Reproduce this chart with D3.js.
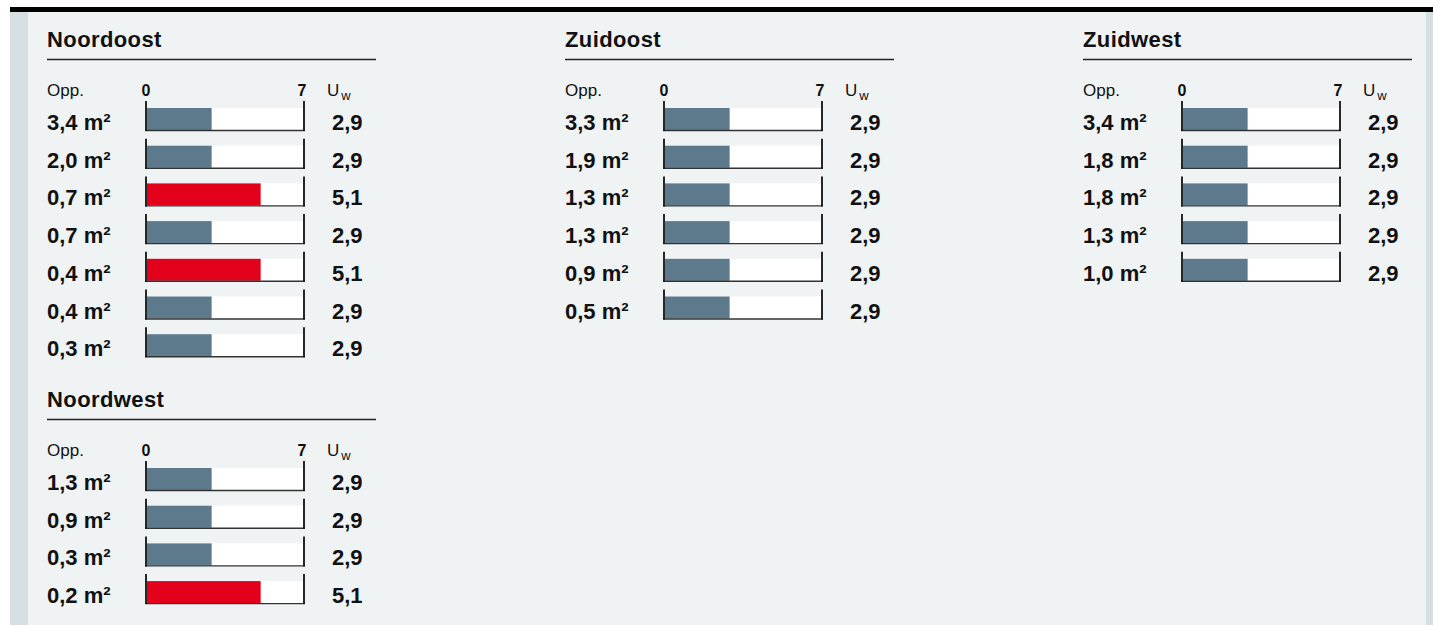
<!DOCTYPE html>
<html>
<head>
<meta charset="utf-8">
<script src="https://cdn.jsdelivr.net/npm/d3@7"></script>
<style>
  body { margin: 0; background: #fff; }
  svg text { font-family: "Liberation Sans", Arial, Helvetica, sans-serif; fill: #111; }
  .title { font-size: 22px; font-weight: bold; letter-spacing: 0.4px; }
  .head { font-size: 17px; }
  .tick-label { font-size: 16px; font-weight: bold; }
  .row-label, .value { font-size: 22px; font-weight: bold; }
</style>
</head>
<body>
<div id="chart"></div>
<script>
// Window data (area in m², U_w value) per facade
const panelNames = ['Noordoost', 'Zuidoost', 'Zuidwest', 'Noordwest'];
const noordoostArea = [3.4, 2.0, 0.7, 0.7, 0.4, 0.4, 0.3];
const noordoostUw   = [2.9, 2.9, 5.1, 2.9, 5.1, 2.9, 2.9];
const zuidoostArea  = [3.3, 1.9, 1.3, 1.3, 0.9, 0.5];
const zuidoostUw    = [2.9, 2.9, 2.9, 2.9, 2.9, 2.9];
const zuidwestArea  = [3.4, 1.8, 1.8, 1.3, 1.0];
const zuidwestUw    = [2.9, 2.9, 2.9, 2.9, 2.9];
const noordwestArea = [1.3, 0.9, 0.3, 0.2];
const noordwestUw   = [2.9, 2.9, 2.9, 5.1];
const axisTicks = [0, 7];

const width = 1433, height = 625;
const nl = d3.formatLocale({ decimal: ',', thousands: '.', grouping: [3], currency: ['€', ''] });
const fmt = nl.format('.1f');

const svg = d3.select('#chart')
    .append('svg')
    .attr('width', width)
    .attr('height', height);

// background frame
svg.append('rect').attr('x', 10).attr('y', 7).attr('width', width - 10).attr('height', height - 7).attr('fill', '#d8dfe3');
svg.append('rect').attr('x', 28).attr('y', 12).attr('width', 1398).attr('height', height - 12).attr('fill', '#f0f3f4');
svg.append('rect').attr('x', 10).attr('y', 7).attr('width', width - 10).attr('height', 5).attr('fill', '#000');

const panels = [
    { name: panelNames[0], area: noordoostArea, uw: noordoostUw, x0: 47, y0: 0 },
    { name: panelNames[1], area: zuidoostArea, uw: zuidoostUw, x0: 565, y0: 0 },
    { name: panelNames[2], area: zuidwestArea, uw: zuidwestUw, x0: 1083, y0: 0 },
    { name: panelNames[3], area: noordwestArea, uw: noordwestUw, x0: 47, y0: 360 }
];

const color = d3.scaleThreshold().domain([4]).range(['#5c7a8b', '#e3001b']);

panels.forEach(p => {
    const g = svg.append('g').attr('transform', `translate(${p.x0},${p.y0})`);
    const x = d3.scaleLinear().domain([0, 7]).range([100, 256]);
    const y = d3.scaleLinear().domain([0, 1]).range([108, 145.7]);
    const rows = p.area.map((a, i) => ({ a, u: p.uw[i], i }));

    g.append('text').attr('class', 'title').attr('x', 0).attr('y', 47).text(p.name);
    g.append('line').attr('x1', 0).attr('x2', 329).attr('y1', 59.5).attr('y2', 59.5)
        .attr('stroke', '#222').attr('stroke-width', 1.3);

    g.append('text').attr('class', 'head').attr('x', 0).attr('y', 96).text('Opp.');
    g.selectAll('.tick-label').data(axisTicks).enter().append('text')
        .attr('class', 'tick-label')
        .attr('x', d => x(d) - 1)
        .attr('y', 96)
        .attr('text-anchor', 'middle')
        .text(d => d);
    const uw = g.append('text').attr('class', 'head').attr('x', 280).attr('y', 96);
    uw.append('tspan').text('U');
    uw.append('tspan').attr('dx', 2).attr('dy', 4).attr('font-size', 13).attr('fill', '#111').text('w');

    const row = g.selectAll('.row').data(rows).enter().append('g').attr('class', 'row');

    row.append('rect')
        .attr('x', x(0)).attr('y', d => y(d.i))
        .attr('width', x(7) - x(0)).attr('height', 22)
        .attr('fill', '#fff');
    row.append('rect')
        .attr('x', x(0)).attr('y', d => y(d.i))
        .attr('width', d => x(d.u) - x(0)).attr('height', 22)
        .attr('fill', d => color(d.u));
    row.append('line')
        .attr('x1', x(0) - 2).attr('x2', x(7) + 2)
        .attr('y1', d => y(d.i) + 22.5).attr('y2', d => y(d.i) + 22.5)
        .attr('stroke', '#333').attr('stroke-width', 1.4);
    row.selectAll('.tk').data(d => axisTicks.map(t => ({ t, i: d.i }))).enter().append('line')
        .attr('x1', d => x(d.t) + (d.t === 0 ? -1 : 1))
        .attr('x2', d => x(d.t) + (d.t === 0 ? -1 : 1))
        .attr('y1', d => y(d.i) - 7).attr('y2', d => y(d.i) + 23)
        .attr('stroke', '#111').attr('stroke-width', 1.8);

    row.append('text').attr('class', 'row-label')
        .attr('x', 0).attr('y', d => y(d.i) + 22)
        .text(d => fmt(d.a) + ' m²');
    row.append('text').attr('class', 'value')
        .attr('x', 285).attr('y', d => y(d.i) + 22)
        .text(d => fmt(d.u));
});
</script>
</body>
</html>
